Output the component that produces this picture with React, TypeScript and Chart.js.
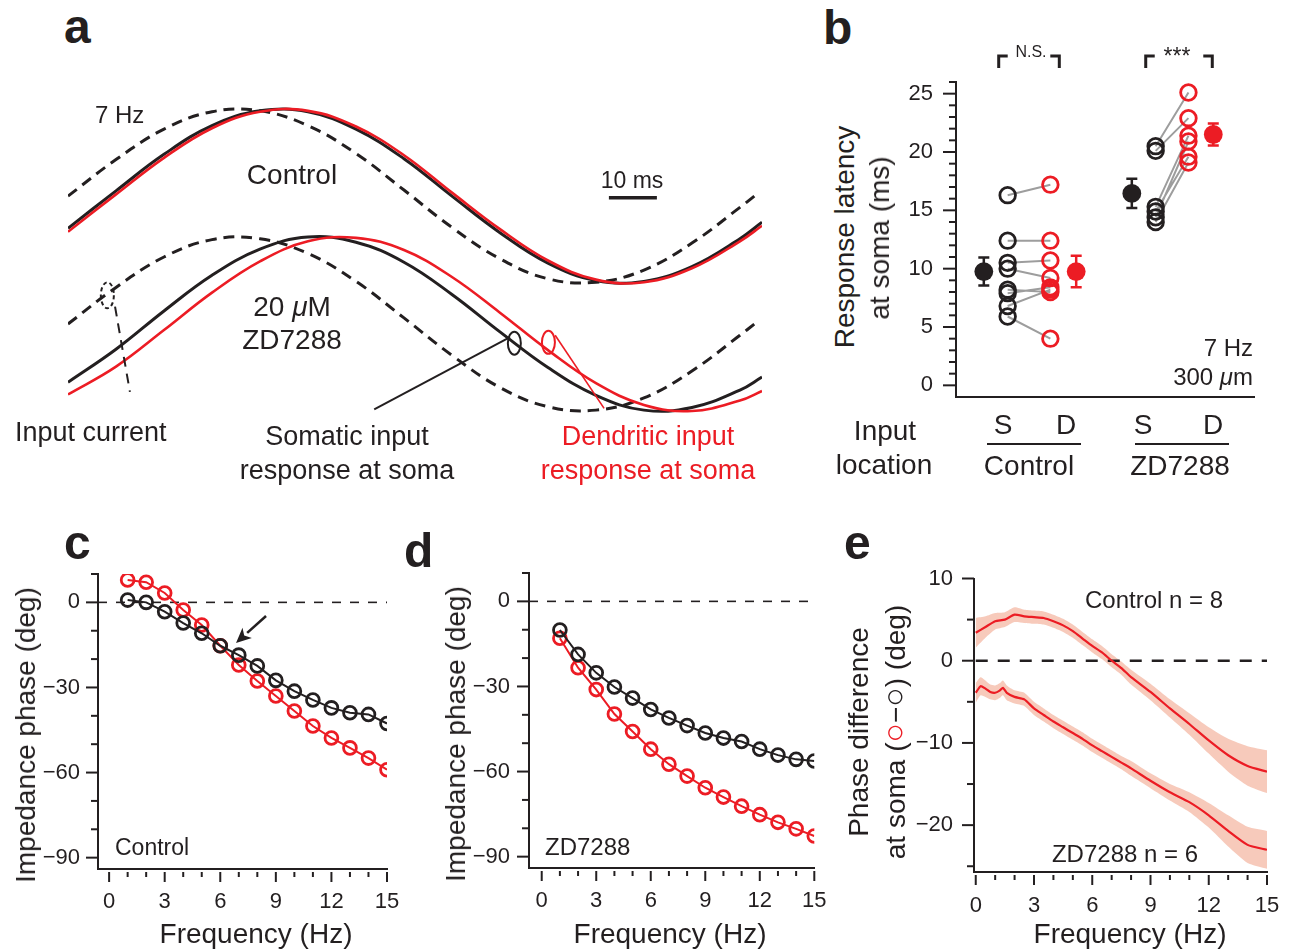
import React, { useEffect, useRef } from 'react';
import { Chart, registerables } from 'chart.js';

Chart.register(...registerables);

const FONT = '"Liberation Sans", Arial, Helvetica, sans-serif';
const INK = '#231f20';
const RED = '#ec1c24';
const GRAY = '#9d9d9d';
const BAND = 'rgba(240, 150, 120, 0.5)';

// ---------------- panel a : 7 Hz sinusoidal input and responses (ms, normalised amplitude) ----------------
const A_TIME = [0, 10, 20, 30, 40, 50, 60, 70, 80, 90, 100, 110, 120, 130, 140, 144.6];
const A_TIME_INPUT = [0, 10, 20, 30, 40, 50, 60, 70, 80, 90, 100, 110, 120, 130, 140, 143];
const A_CTRL_INPUT = [1.47, 1.89, 2.24, 2.44, 2.45, 2.28, 1.96, 1.54, 1.11, 0.75, 0.52, 0.48, 0.62, 0.93, 1.34, 1.47];
const A_CTRL_SOMA = [1.1, 1.53, 1.95, 2.28, 2.45, 2.44, 2.24, 1.9, 1.47, 1.05, 0.7, 0.5, 0.49, 0.66, 0.98, 1.17];
const A_CTRL_DEND = [1.06, 1.49, 1.91, 2.25, 2.44, 2.45, 2.27, 1.94, 1.51, 1.09, 0.73, 0.51, 0.48, 0.64, 0.95, 1.13];
const A_ZD_INPUT = [0.0, 0.42, 0.77, 0.97, 0.98, 0.81, 0.49, 0.07, -0.36, -0.73, -0.95, -0.99, -0.85, -0.54, -0.13, 0.0];
const A_ZD_SOMA = [-0.67, -0.29, 0.15, 0.56, 0.86, 1.0, 0.94, 0.71, 0.34, -0.09, -0.5, -0.82, -0.99, -0.96, -0.76, -0.61];
const A_ZD_DEND = [-0.81, -0.49, -0.07, 0.36, 0.72, 0.95, 0.99, 0.85, 0.54, 0.13, -0.3, -0.68, -0.93, -1.0, -0.88, -0.77];
const A_SCALEBAR_MS = [112.7, 122.7];
const A_SCALEBAR_LEVEL = 1.45;
const A_MARKS = [
  { t: 8.2, v: 0.33, from: [9.8, 0.2], to: [12.9, -0.78], color: INK, dashed: true, lw: 2 },
  { t: 93.0, v: -0.22, from: [92.1, -0.15], to: [63.8, -0.98], color: INK, dashed: false, lw: 2 },
  { t: 100.1, v: -0.21, from: [101.5, -0.13], to: [111.7, -0.97], color: RED, dashed: false, lw: 1.6 },
];

// ---------------- panel b : response latency (ms) ----------------
const B_CTRL_S = [16.3, 12.4, 10.5, 10.0, 8.2, 7.9, 6.8, 5.9];
const B_CTRL_D = [17.2, 12.4, 10.7, 9.2, 8.0, 8.4, 8.2, 4.0];
const B_ZD_S = [20.5, 20.1, 15.3, 14.9, 14.4, 14.0];
const B_ZD_D = [25.1, 22.9, 21.4, 19.6, 20.9, 19.1];
const B_MEAN = [9.75, 9.75, 16.45, 21.5];
const B_SEM = [1.2, 1.35, 1.25, 0.95];
const B_MEAN_COLORS = [INK, RED, INK, RED];
const B_X_CTRL_S = 5.2;
const B_X_CTRL_D = 9.5;
const B_X_ZD_S = 20.1;
const B_X_ZD_D = 23.4;
const B_X_MEAN = [2.8, 12.1, 17.7, 25.9];
const B_BRACKETS = [[4.3, 10.4], [19.1, 25.8]];
const B_Y_MAJOR = [0, 5, 10, 15, 20, 25];
const B_Y_MINOR = [1, 2, 3, 4, 6, 7, 8, 9, 11, 12, 13, 14, 16, 17, 18, 19, 21, 22, 23, 24, 26];

// ---------------- panels c, d : impedance phase (deg) ----------------
const FREQ = [1, 2, 3, 4, 5, 6, 7, 8, 9, 10, 11, 12, 13, 14, 15];
const C_SOMA = [0.8, 0.0, -3.3, -7.3, -10.9, -15.3, -18.6, -22.4, -27.5, -31.3, -34.4, -37.2, -38.9, -39.5, -42.7];
const C_DEND = [7.9, 7.1, 3.3, -2.7, -8.0, -15.3, -22.1, -27.7, -33.0, -38.3, -43.6, -47.8, -51.3, -54.9, -59.0];
const D_SOMA = [-10.1, -18.7, -25.2, -30.2, -34.1, -38.1, -41.1, -43.8, -46.4, -48.2, -49.4, -52.1, -54.2, -55.7, -56.3];
const D_DEND = [-13.0, -23.4, -31.1, -39.7, -45.9, -52.1, -57.4, -61.6, -65.7, -69.0, -72.2, -75.2, -77.9, -80.2, -82.7];
const C_ARROW = { from: [8.47, -4.8], to: [6.85, -14.3] };
const PHASE_Y_MAJOR = [0, -30, -60, -90];
const PHASE_Y_MINOR = [10, -10, -20, -40, -50, -70, -80];
const FREQ_X_MAJOR = [0, 3, 6, 9, 12, 15];
const FREQ_X_MINOR = [1, 2, 4, 5, 7, 8, 10, 11, 13, 14];

// ---------------- panel e : phase difference (deg) ----------------
const E_FREQ_CTRL = [0, 0.5, 1, 1.5, 2, 2.5, 3, 3.5, 4, 4.5, 5, 5.5, 6, 6.5, 7, 7.5, 8, 9, 10, 11, 12, 13, 14, 15];
const E_CTRL = [3.4, 4.1, 4.8, 5.0, 5.6, 5.4, 5.3, 5.2, 4.8, 4.3, 3.6, 2.7, 1.8, 1.0, 0.0, -0.9, -2.0, -3.8, -5.8, -7.7, -9.7, -11.5, -12.8, -13.5];
const E_CTRL_SEM = [1.8, 1.3, 1.0, 0.9, 0.9, 0.8, 0.8, 0.8, 0.8, 0.8, 0.8, 0.8, 0.8, 0.8, 0.8, 0.8, 0.9, 1.0, 1.1, 1.3, 1.6, 2.0, 2.4, 2.6];
const E_FREQ_ZD = [0, 0.25, 0.5, 0.75, 1, 1.25, 1.4, 1.6, 2, 2.5, 3, 3.5, 4, 4.5, 5, 5.5, 6, 6.5, 7, 7.5, 8, 9, 10, 11, 12, 13, 14, 15];
const E_ZD = [-3.9, -3.1, -3.4, -3.8, -3.9, -3.6, -3.3, -3.9, -4.4, -4.7, -5.8, -6.6, -7.4, -8.1, -8.8, -9.5, -10.3, -11.0, -11.7, -12.4, -13.1, -14.6, -16.0, -17.2, -18.8, -20.7, -22.4, -23.0];
const E_ZD_SEM = [1.2, 1.1, 1.0, 0.9, 0.9, 0.9, 0.9, 0.9, 0.8, 0.8, 0.8, 0.8, 0.8, 0.8, 0.8, 0.8, 0.8, 0.8, 0.8, 0.8, 0.9, 0.9, 1.0, 1.2, 1.5, 1.9, 2.2, 2.3];
const E_Y_MAJOR = [10, 0, -10, -20];
const E_Y_MINOR = [5, -5, -15, -25];

// ---------------- helpers ----------------
const pts = (xs: number[], ys: number[]) => xs.map((x, i) => ({ x, y: ys[i] }));
const fmt = (v: number) => (v < 0 ? '\u2212' + Math.abs(v) : String(v));

function baseOptions(padding: any, scales: any) {
  return {
    responsive: false,
    animation: false,
    devicePixelRatio: 1,
    events: [],
    layout: { padding },
    plugins: { legend: { display: false }, tooltip: { enabled: false }, title: { display: false } },
    scales,
  };
}

function yAxis(min: number, max: number, width: number, labels: number[], pad: number) {
  return {
    type: 'linear', position: 'left', min, max,
    afterFit: (s: any) => { s.width = width; },
    afterBuildTicks: (s: any) => { s.ticks = labels.map((value) => ({ value })); },
    grid: { display: false, drawTicks: false },
    border: { display: true, color: INK, width: 2 },
    ticks: { padding: pad, color: INK, autoSkip: false, font: { family: FONT, size: 22 }, callback: (v: number) => fmt(v) },
  };
}

function xAxis(min: number, max: number, height: number, labels: number[] | null, pad: number) {
  return {
    type: 'linear', position: 'bottom', min, max,
    afterFit: (s: any) => { s.height = height; },
    afterBuildTicks: (s: any) => { s.ticks = (labels || []).map((value) => ({ value })); },
    grid: { display: false, drawTicks: false },
    border: { display: true, color: INK, width: 2 },
    ticks: { display: !!labels, padding: pad, color: INK, autoSkip: false, maxRotation: 0, font: { family: FONT, size: 22 }, callback: (v: number) => fmt(v) },
  };
}

function tickMarks(id: string, cfg: any) {
  return {
    id,
    afterDraw(chart: any) {
      const { ctx, chartArea, scales } = chart;
      ctx.save();
      ctx.strokeStyle = INK;
      ctx.lineWidth = 2;
      if (cfg.y) {
        const x0 = chartArea.left;
        const draw = (vals: number[], len: number) => vals.forEach((v) => {
          const py = scales.y.getPixelForValue(v);
          ctx.beginPath(); ctx.moveTo(x0 - len, py); ctx.lineTo(x0, py); ctx.stroke();
        });
        draw(cfg.y.major, cfg.y.majorLen);
        draw(cfg.y.minor, cfg.y.minorLen);
      }
      if (cfg.x) {
        const y0 = chartArea.bottom + cfg.x.gap;
        const draw = (vals: number[], len: number) => vals.forEach((v) => {
          const px = scales.x.getPixelForValue(v);
          ctx.beginPath(); ctx.moveTo(px, y0); ctx.lineTo(px, y0 + len); ctx.stroke();
        });
        draw(cfg.x.major, cfg.x.majorLen);
        draw(cfg.x.minor, cfg.x.minorLen);
      }
      ctx.restore();
    },
  };
}

const lineDs = (data: any[], color: string, width: number, dash: number[] = [], order = 0) => ({
  data, borderColor: color, borderWidth: width, borderDash: dash, pointRadius: 0, tension: 0.4, fill: false, order,
});

const circleDs = (data: any[], color: string, order: number) => ({
  data, borderColor: color, borderWidth: 2, pointRadius: 6.4, pointBorderWidth: 2.8,
  pointBackgroundColor: 'rgba(0,0,0,0)', pointBorderColor: color, pointStyle: 'circle', tension: 0, fill: false, order,
});

// ---------------- chart factories ----------------
function makeA() {
  const decor = {
    id: 'aDecor',
    afterDatasetsDraw(chart: any) {
      const { ctx, scales: { x, y } } = chart;
      const P = (t: number, v: number) => [x.getPixelForValue(t), y.getPixelForValue(v)];
      ctx.save();
      ctx.strokeStyle = INK;
      ctx.lineWidth = 3.5;
      const [sx1, sy] = P(A_SCALEBAR_MS[0], A_SCALEBAR_LEVEL);
      const [sx2] = P(A_SCALEBAR_MS[1], A_SCALEBAR_LEVEL);
      ctx.beginPath(); ctx.moveTo(sx1, sy); ctx.lineTo(sx2, sy); ctx.stroke();
      A_MARKS.forEach((m) => {
        const [cx, cy] = P(m.t, m.v);
        ctx.strokeStyle = m.color;
        ctx.lineWidth = 2;
        ctx.setLineDash(m.dashed ? [4, 3] : []);
        ctx.beginPath(); ctx.ellipse(cx, cy, 6.5, m.dashed ? 13 : 11.5, 0, 0, Math.PI * 2); ctx.stroke();
        ctx.setLineDash(m.dashed ? [10, 7] : []);
        ctx.lineWidth = m.lw;
        const [fx, fy] = P(m.from[0], m.from[1]);
        const [tx, ty] = P(m.to[0], m.to[1]);
        ctx.beginPath(); ctx.moveTo(fx, fy); ctx.lineTo(tx, ty); ctx.stroke();
      });
      ctx.restore();
    },
  };
  return {
    type: 'line',
    data: {
      datasets: [
        lineDs(pts(A_TIME, A_CTRL_DEND), RED, 2.6, [], 0),
        lineDs(pts(A_TIME, A_CTRL_SOMA), INK, 3, [], 1),
        lineDs(pts(A_TIME_INPUT, A_CTRL_INPUT), INK, 3, [11, 7], 2),
        lineDs(pts(A_TIME, A_ZD_DEND), RED, 2.6, [], 0),
        lineDs(pts(A_TIME, A_ZD_SOMA), INK, 3, [], 1),
        lineDs(pts(A_TIME_INPUT, A_ZD_INPUT), INK, 3, [11, 7], 2),
      ],
    },
    options: baseOptions({ left: 13, right: 13, top: 9.54, bottom: 10.3 }, {
      x: { type: 'linear', display: false, min: 0, max: 144.6 },
      y: { type: 'linear', display: false, min: -1.1, max: 2.58 },
    }),
    plugins: [decor],
  };
}

function makeB() {
  const pairLines: any[] = [];
  B_CTRL_S.forEach((v, i) => {
    pairLines.push({ x: B_X_CTRL_S, y: v }, { x: B_X_CTRL_D, y: B_CTRL_D[i] }, { x: B_X_CTRL_D, y: null });
  });
  B_ZD_S.forEach((v, i) => {
    pairLines.push({ x: B_X_ZD_S, y: v }, { x: B_X_ZD_D, y: B_ZD_D[i] }, { x: B_X_ZD_D, y: null });
  });
  const openDs = (xv: number, vals: number[], color: string) => ({
    data: vals.map((y) => ({ x: xv, y })), showLine: false, pointRadius: 7.8, pointBorderWidth: 2.8,
    pointBackgroundColor: 'rgba(0,0,0,0)', pointBorderColor: color, order: 1,
  });
  const decor = {
    id: 'bDecor',
    beforeDatasetsDraw(chart: any) {
      const { ctx, scales: { x, y } } = chart;
      ctx.save();
      ctx.lineWidth = 2.5;
      B_MEAN.forEach((m, i) => {
        const px = x.getPixelForValue(B_X_MEAN[i]);
        const top = y.getPixelForValue(m + B_SEM[i]);
        const bot = y.getPixelForValue(m - B_SEM[i]);
        ctx.strokeStyle = B_MEAN_COLORS[i];
        ctx.beginPath();
        ctx.moveTo(px, top); ctx.lineTo(px, bot);
        ctx.moveTo(px - 5.5, top); ctx.lineTo(px + 5.5, top);
        ctx.moveTo(px - 5.5, bot); ctx.lineTo(px + 5.5, bot);
        ctx.stroke();
      });
      ctx.strokeStyle = INK;
      ctx.lineWidth = 3;
      const yTop = y.getPixelForValue(28.23);
      const yLeg = y.getPixelForValue(27.2);
      B_BRACKETS.forEach(([a, b]) => {
        const xa = x.getPixelForValue(a);
        const xb = x.getPixelForValue(b);
        ctx.beginPath();
        ctx.moveTo(xa, yLeg); ctx.lineTo(xa, yTop); ctx.lineTo(xa + 9, yTop);
        ctx.moveTo(xb - 9, yTop); ctx.lineTo(xb, yTop); ctx.lineTo(xb, yLeg);
        ctx.stroke();
      });
      ctx.restore();
    },
  };
  return {
    type: 'line',
    data: {
      datasets: [
        {
          data: B_MEAN.map((y, i) => ({ x: B_X_MEAN[i], y })), showLine: false, pointRadius: 9.4, pointBorderWidth: 0,
          pointBackgroundColor: B_MEAN_COLORS, pointBorderColor: B_MEAN_COLORS, order: 0,
        },
        openDs(B_X_CTRL_S, B_CTRL_S, INK),
        openDs(B_X_CTRL_D, B_CTRL_D, RED),
        openDs(B_X_ZD_S, B_ZD_S, INK),
        openDs(B_X_ZD_D, B_ZD_D, RED),
        { data: pairLines, borderColor: GRAY, borderWidth: 2, pointRadius: 0, spanGaps: false, tension: 0, order: 5 },
      ],
    },
    options: baseOptions({ left: 0, right: 11, top: 47, bottom: 0 }, {
      x: xAxis(0, 30, 48, null, 0),
      y: yAxis(-1, 26, 66, B_Y_MAJOR, 23),
    }),
    plugins: [decor, tickMarks('bTicks', { y: { major: B_Y_MAJOR, minor: B_Y_MINOR, majorLen: 13, minorLen: 7 } })],
  };
}

function makePhase(soma: number[], dend: number[], xmin: number, yWidth: number, padR: number, padT: number, xH: number, yPad: number, xPad: number, arrow: boolean) {
  const decor = {
    id: 'arrow',
    afterDatasetsDraw(chart: any) {
      if (!arrow) return;
      const { ctx, scales: { x, y } } = chart;
      const fx = x.getPixelForValue(C_ARROW.from[0]);
      const fy = y.getPixelForValue(C_ARROW.from[1]);
      const tx = x.getPixelForValue(C_ARROW.to[0]);
      const ty = y.getPixelForValue(C_ARROW.to[1]);
      const ang = Math.atan2(ty - fy, tx - fx);
      const hl = 15;
      const hw = 7;
      const bx = tx - hl * Math.cos(ang);
      const by = ty - hl * Math.sin(ang);
      ctx.save();
      ctx.strokeStyle = INK; ctx.fillStyle = INK; ctx.lineWidth = 2.5;
      ctx.beginPath(); ctx.moveTo(fx, fy); ctx.lineTo(bx, by); ctx.stroke();
      ctx.beginPath();
      ctx.moveTo(tx, ty);
      ctx.lineTo(bx + hw * Math.sin(ang), by - hw * Math.cos(ang));
      ctx.lineTo(bx + 4 * Math.cos(ang), by + 4 * Math.sin(ang));
      ctx.lineTo(bx - hw * Math.sin(ang), by + hw * Math.cos(ang));
      ctx.closePath(); ctx.fill();
      ctx.restore();
    },
  };
  return {
    type: 'line',
    data: {
      datasets: [
        circleDs(pts(FREQ, soma), INK, 0),
        circleDs(pts(FREQ, dend), RED, 1),
        { data: [{ x: xmin, y: 0 }, { x: 15, y: 0 }], borderColor: INK, borderWidth: 1.6, borderDash: [9, 9], pointRadius: 0, order: 3 },
      ],
    },
    options: baseOptions({ left: 0, right: padR, top: padT, bottom: 0 }, {
      x: xAxis(xmin, 15, xH, FREQ_X_MAJOR, xPad),
      y: yAxis(-94, 10, yWidth, PHASE_Y_MAJOR, yPad),
    }),
    plugins: [decor, tickMarks('pTicks', {
      y: { major: PHASE_Y_MAJOR, minor: PHASE_Y_MINOR, majorLen: 12, minorLen: 7 },
      x: { major: FREQ_X_MAJOR, minor: FREQ_X_MINOR, majorLen: 10, minorLen: 5, gap: 3 },
    })],
  };
}

function makeE() {
  const upper = (xs: number[], m: number[], s: number[]) => xs.map((x, i) => ({ x, y: m[i] + s[i] }));
  const lower = (xs: number[], m: number[], s: number[]) => xs.map((x, i) => ({ x, y: m[i] - s[i] }));
  const bandDs = (data: any[], fill: any) => ({ data, borderWidth: 0, borderColor: 'rgba(0,0,0,0)', backgroundColor: BAND, pointRadius: 0, fill, tension: 0.2, order: 5 });
  return {
    type: 'line',
    data: {
      datasets: [
        { data: pts(E_FREQ_CTRL, E_CTRL), borderColor: RED, borderWidth: 2.2, pointRadius: 0, tension: 0.2, fill: false, order: 0 },
        { data: pts(E_FREQ_ZD, E_ZD), borderColor: RED, borderWidth: 2.2, pointRadius: 0, tension: 0.2, fill: false, order: 0 },
        bandDs(upper(E_FREQ_CTRL, E_CTRL, E_CTRL_SEM), '+1'),
        bandDs(lower(E_FREQ_CTRL, E_CTRL, E_CTRL_SEM), false),
        bandDs(upper(E_FREQ_ZD, E_ZD, E_ZD_SEM), '+1'),
        bandDs(lower(E_FREQ_ZD, E_ZD, E_ZD_SEM), false),
        { data: [{ x: 0, y: 0 }, { x: 15, y: 0 }], borderColor: INK, borderWidth: 2.5, borderDash: [12, 10], pointRadius: 0, order: 1 },
      ],
    },
    options: baseOptions({ left: 0, right: 43, top: 38.5, bottom: 0 }, {
      x: xAxis(-0.09, 15, 48, FREQ_X_MAJOR, 20.6),
      y: yAxis(-25.7, 10, 84, E_Y_MAJOR, 21),
    }),
    plugins: [tickMarks('eTicks', {
      y: { major: E_Y_MAJOR, minor: E_Y_MINOR, majorLen: 12, minorLen: 7 },
      x: { major: FREQ_X_MAJOR, minor: FREQ_X_MINOR, majorLen: 10, minorLen: 5, gap: 3 },
    })],
  };
}

// ---------------- components ----------------
function ChartBox({ l, t, w, h, make }: { l: number; t: number; w: number; h: number; make: () => any }) {
  const ref = useRef<HTMLCanvasElement>(null);
  useEffect(() => {
    const chart = new Chart(ref.current as HTMLCanvasElement, make());
    return () => chart.destroy();
  }, []);
  return <canvas ref={ref} width={w} height={h} style={{ position: 'absolute', left: l, top: t, width: w, height: h }} />;
}

function T({ x, y, s, a = 'c', c = INK, b = false, r = false, children }: any) {
  const tx = a === 'l' ? '0' : a === 'r' ? '-100%' : '-50%';
  const transform = r ? 'translate(-50%, -50%) rotate(-90deg)' : `translate(${tx}, -50%)`;
  return (
    <div style={{ position: 'absolute', left: x, top: y, transform, fontSize: s, lineHeight: 1, fontWeight: b ? 700 : 400, color: c, whiteSpace: 'nowrap', fontFamily: FONT }}>
      {children}
    </div>
  );
}

function HLine({ x1, x2, y }: { x1: number; x2: number; y: number }) {
  return <div style={{ position: 'absolute', left: x1, top: y - 1.25, width: x2 - x1, height: 2.5, background: INK }} />;
}

export default function App() {
  return (
    <div style={{ position: 'absolute', left: 0, top: 0, width: 1293, height: 952, overflow: 'hidden', background: '#fff', fontFamily: FONT, color: INK }}>
      <ChartBox l={55} t={90} w={720} h={340} make={makeA} />
      <ChartBox l={890} t={35} w={375} h={410} make={makeB} />
      <ChartBox l={0} t={540} w={430} h={380} make={() => makePhase(C_SOMA, C_DEND, -0.6, 98, 43, 34, 51, 18, 19.3, true)} />
      <ChartBox l={440} t={540} w={415} h={380} make={() => makePhase(D_SOMA, D_DEND, -0.7, 89, 40.7, 33, 52, 19, 19.6, false)} />
      <ChartBox l={890} t={540} w={420} h={380} make={makeE} />

      {/* panel letters */}
      <T x={64} y={27} s={48} a="l" b>a</T>
      <T x={823} y={28} s={48} a="l" b>b</T>
      <T x={64} y={543} s={48} a="l" b>c</T>
      <T x={404} y={551} s={48} a="l" b>d</T>
      <T x={844} y={543} s={48} a="l" b>e</T>

      {/* panel a text */}
      <T x={95} y={115} s={24} a="l">7 Hz</T>
      <T x={292} y={175} s={28}>Control</T>
      <T x={292} y={307} s={28}>20 <i>μ</i>M</T>
      <T x={292} y={340} s={28}>ZD7288</T>
      <T x={632} y={180} s={23}>10 ms</T>
      <T x={15} y={432} s={27} a="l">Input current</T>
      <T x={347} y={436} s={27}>Somatic input</T>
      <T x={347} y={470} s={27}>response at soma</T>
      <T x={648} y={436} s={27} c={RED}>Dendritic input</T>
      <T x={648} y={470} s={27} c={RED}>response at soma</T>

      {/* panel b text */}
      <T x={1031} y={52} s={16}>N.S.</T>
      <T x={1177} y={56} s={23}>***</T>
      <T x={845} y={237} s={28} r>Response latency</T>
      <T x={880} y={238} s={28} r>at soma (ms)</T>
      <T x={1253} y={348} s={24} a="r">7 Hz</T>
      <T x={1253} y={377} s={24} a="r">300 <i>μ</i>m</T>
      <T x={885} y={431} s={28}>Input</T>
      <T x={884} y={465} s={28}>location</T>
      <T x={1003} y={425} s={28}>S</T>
      <T x={1066} y={425} s={28}>D</T>
      <T x={1143} y={425} s={28}>S</T>
      <T x={1213} y={425} s={28}>D</T>
      <HLine x1={987} x2={1081} y={444} />
      <HLine x1={1135} x2={1229} y={444} />
      <T x={1029} y={466} s={28}>Control</T>
      <T x={1180} y={466} s={28}>ZD7288</T>

      {/* panel c text */}
      <T x={26} y={735} s={28} r>Impedance phase (deg)</T>
      <T x={256} y={934} s={28}>Frequency (Hz)</T>
      <T x={115} y={847} s={23} a="l">Control</T>

      {/* panel d text */}
      <T x={456} y={734} s={28} r>Impedance phase (deg)</T>
      <T x={670} y={934} s={28}>Frequency (Hz)</T>
      <T x={545} y={847} s={24} a="l">ZD7288</T>

      {/* panel e text */}
      <T x={859} y={732} s={28} r>Phase difference</T>
      <T x={896} y={732} s={28} r>
        at soma (<span style={{ color: RED, fontSize: '1.15em', lineHeight: 0 }}>○</span>−<span style={{ fontSize: '1.15em', lineHeight: 0 }}>○</span>) (deg)
      </T>
      <T x={1154} y={600} s={24}>Control n = 8</T>
      <T x={1125} y={854} s={24}>ZD7288 n = 6</T>
      <T x={1130} y={934} s={28}>Frequency (Hz)</T>
    </div>
  );
}
